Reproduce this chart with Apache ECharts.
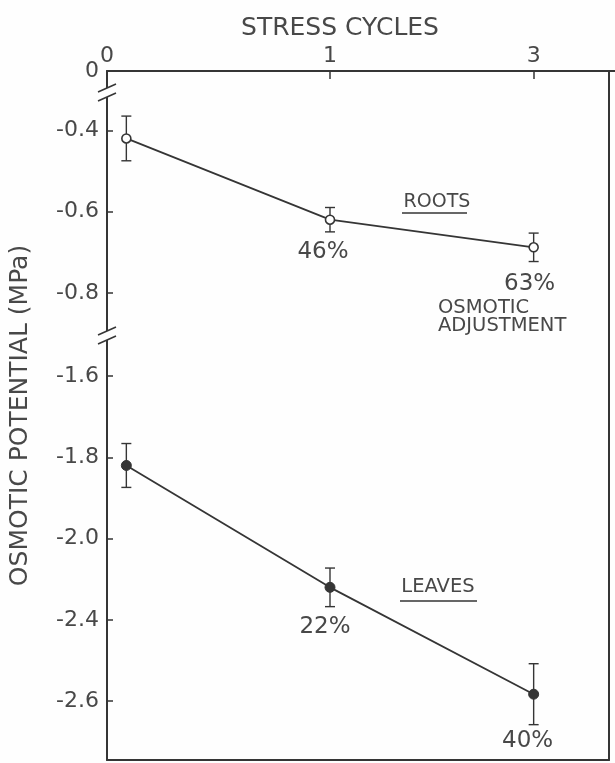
<!DOCTYPE html>
<html>
<head>
<meta charset="utf-8">
<script src="https://cdn.jsdelivr.net/npm/echarts@6/dist/echarts.min.js"></script>
<style>
  html, body { margin: 0; padding: 0; background: #fefefe; }
  #chart { width: 615px; height: 763px; }
</style>
</head>
<body>
<div id="chart"></div>
<script>
// Stress cycles, drawn equally spaced along the top axis
const cycles = ['0', '1', '3'];

// Osmotic potential (MPa): means and ± error
const rootsMean = [-0.42, -0.62, -0.688];
const rootsErr = [0.055, 0.03, 0.035];
const leavesMean = [-1.82, -2.24, -2.583];
const leavesErr = [0.054, 0.095, 0.075];

// Osmotic adjustment after each number of cycles
const rootsAdjust = ['', '46%', '63%'];
const leavesAdjust = ['', '22%', '40%'];

// Y axis ticks and their printed labels
const yTickValues = [0, -0.4, -0.6, -0.8, -1.6, -1.8, -2.0, -2.4, -2.6];
const yTickLabels = ['0', '-0.4', '-0.6', '-0.8', '-1.6', '-1.8', '-2.0', '-2.4', '-2.6'];

// Compressed stretches of the osmotic-potential axis
const yBreaks = [
  { start: -0.33, end: -0.03, gap: 0.046 },
  { start: -1.52, end: -0.885, gap: 0.04 },
  { start: -2.4, end: -2.0, gap: 0.2 }
];

const ink = '#353535';
const textInk = '#484848';
const paper = '#fefefe';
const font = 'DejaVu Sans';
const xMin = -0.095, xMax = 2.37;
const yMin = -2.745, yMax = 0;

const chart = echarts.init(document.getElementById('chart'), null, { renderer: 'canvas' });

function labelFor(values, labels, v) {
  let best = 0;
  for (let i = 1; i < values.length; i++) {
    if (Math.abs(values[i] - v) < Math.abs(values[best] - v)) best = i;
  }
  return labels[best];
}

// label placement below each point: [distance, dx]
const rootsLabelPos = [[0, 0], [16, -7], [20, -4]];
const leavesLabelPos = [[0, 0], [23, -5], [30, -6]];

function pointData(means, adjust, pos) {
  return means.map((v, i) => ({
    value: [i, v],
    label: {
      show: adjust[i] !== '',
      formatter: adjust[i],
      position: 'bottom',
      distance: pos[i][0],
      offset: [pos[i][1], 0]
    }
  }));
}

function errData(means, errs) {
  return means.map((v, i) => [i, v - errs[i], v + errs[i]]);
}

function renderErr(params, api) {
  const x = api.value(0);
  const lo = api.coord([x, api.value(1)]);
  const hi = api.coord([x, api.value(2)]);
  const w = 5;
  const style = { stroke: ink, lineWidth: 1.4 };
  return {
    type: 'group',
    children: [
      { type: 'line', shape: { x1: lo[0], y1: lo[1], x2: hi[0], y2: hi[1] }, style },
      { type: 'line', shape: { x1: lo[0] - w, y1: lo[1], x2: lo[0] + w, y2: lo[1] }, style },
      { type: 'line', shape: { x1: hi[0] - w, y1: hi[1], x2: hi[0] + w, y2: hi[1] }, style }
    ]
  };
}

const labelText = { fontFamily: font, fontSize: 23, color: textInk };
const bareAxis = { axisTick: { show: false }, axisLabel: { show: false }, splitLine: { show: false } };

const option = {
  backgroundColor: paper,
  animation: false,
  grid: { left: 107, right: 6, top: 71, bottom: 3, outerBoundsMode: 'none' },
  xAxis: [
    {
      type: 'value', position: 'top', min: xMin, max: xMax,
      axisLine: { show: true, onZero: false, lineStyle: { color: ink, width: 2 } },
      axisTick: { show: true, inside: true, length: 8, customValues: [1, 2], lineStyle: { color: ink, width: 1.5 } },
      axisLabel: {
        show: true, customValues: [xMin, 1, 2], margin: 4,
        formatter: v => cycles[Math.max(0, Math.round(v))],
        fontFamily: font, fontSize: 22, color: textInk
      },
      splitLine: { show: false }
    },
    Object.assign({
      type: 'value', position: 'bottom', min: xMin, max: xMax,
      axisLine: { show: true, onZero: false, lineStyle: { color: ink, width: 2 } }
    }, bareAxis)
  ],
  yAxis: [
    {
      type: 'value', position: 'left', min: yMin, max: yMax,
      breaks: yBreaks,
      breakArea: { show: false, expandOnClick: false },
      name: 'OSMOTIC POTENTIAL (MPa)',
      nameLocation: 'middle', nameRotate: 90, nameGap: 74,
      nameTextStyle: { fontFamily: font, fontSize: 25, color: textInk },
      axisLine: { show: false, onZero: false },
      axisTick: { show: true, inside: true, length: 6, customValues: yTickValues.slice(1), lineStyle: { color: ink, width: 1.5 } },
      axisLabel: {
        show: true, customValues: yTickValues, margin: 8,
        formatter: v => labelFor(yTickValues, yTickLabels, v),
        fontFamily: font, fontSize: 22, color: textInk
      },
      splitLine: { show: false }
    },
    Object.assign({
      type: 'value', position: 'right', min: yMin, max: yMax,
      axisLine: { show: true, onZero: false, lineStyle: { color: ink, width: 2 } }
    }, bareAxis),
    Object.assign({
      type: 'value', position: 'left', min: yMin, max: yMax,
      axisLine: { show: true, onZero: false, lineStyle: { color: ink, width: 2 } }
    }, bareAxis)
  ],
  series: [
    {
      type: 'custom', name: 'roots error', renderItem: renderErr,
      data: errData(rootsMean, rootsErr), encode: { x: 0, y: [1, 2] }, z: 1
    },
    {
      type: 'custom', name: 'leaves error', renderItem: renderErr,
      data: errData(leavesMean, leavesErr), encode: { x: 0, y: [1, 2] }, z: 1
    },
    {
      type: 'line', name: 'Roots', z: 3,
      data: pointData(rootsMean, rootsAdjust, rootsLabelPos),
      symbol: 'circle', symbolSize: 9,
      itemStyle: { color: paper, borderColor: ink, borderWidth: 1.6 },
      lineStyle: { color: ink, width: 1.8 },
      label: labelText
    },
    {
      type: 'line', name: 'Leaves', z: 3,
      data: pointData(leavesMean, leavesAdjust, leavesLabelPos),
      symbol: 'circle', symbolSize: 10,
      itemStyle: { color: ink, borderColor: ink, borderWidth: 1 },
      lineStyle: { color: ink, width: 1.8 },
      label: labelText
    }
  ],
  graphic: [
    { type: 'text', x: 340, y: 28, style: { text: 'STRESS CYCLES', fontFamily: font, fontSize: 25, fill: textInk, align: 'center', verticalAlign: 'middle' } },
    { type: 'line', shape: { x1: 606, y1: 71, x2: 615, y2: 71 }, style: { stroke: ink, lineWidth: 2 } },
    { type: 'text', x: 437, y: 202, style: { text: 'ROOTS', fontFamily: font, fontSize: 19, fill: textInk, align: 'center', verticalAlign: 'middle' } },
    { type: 'line', shape: { x1: 402, y1: 213, x2: 467, y2: 213 }, style: { stroke: ink, lineWidth: 1.5 } },
    { type: 'text', x: 438, y: 308, style: { text: 'OSMOTIC', fontFamily: font, fontSize: 19.5, fill: textInk, align: 'left', verticalAlign: 'middle' } },
    { type: 'text', x: 438, y: 326, style: { text: 'ADJUSTMENT', fontFamily: font, fontSize: 19.5, fill: textInk, align: 'left', verticalAlign: 'middle' } },
    { type: 'text', x: 438, y: 587, style: { text: 'LEAVES', fontFamily: font, fontSize: 19.5, fill: textInk, align: 'center', verticalAlign: 'middle' } },
    { type: 'line', shape: { x1: 400, y1: 601, x2: 477, y2: 601 }, style: { stroke: ink, lineWidth: 1.5 } }
  ]
};

chart.setOption(option);

// "//" marks where the value axis is broken
function breakMarks() {
  const ax = chart.convertToPixel({ xAxisIndex: 0 }, xMin);
  const marks = [];
  [yBreaks[0], yBreaks[1]].forEach(b => {
    const yTop = chart.convertToPixel({ yAxisIndex: 0 }, b.end);
    const yBot = chart.convertToPixel({ yAxisIndex: 0 }, b.start);
    const cy = (yTop + yBot) / 2;
    marks.push({ type: 'rect', shape: { x: ax - 4, y: cy - 4.5, width: 8, height: 9 }, style: { fill: paper }, z: 10 });
    [-4.5, 4.5].forEach(d => {
      marks.push({ type: 'line', shape: { x1: ax - 9, y1: cy + d + 4, x2: ax + 9, y2: cy + d - 4 }, style: { stroke: ink, lineWidth: 1.6 }, z: 11 });
    });
  });
  chart.setOption({ graphic: option.graphic.concat(marks) });
}
breakMarks();
</script>
</body>
</html>
